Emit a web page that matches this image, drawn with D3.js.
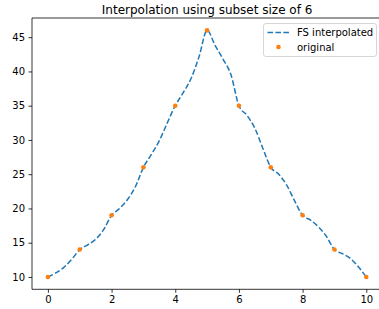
<!DOCTYPE html>
<html>
<head>
<meta charset="UTF-8">
<script src="https://d3js.org/d3.v7.min.js"></script>
<style>
body { margin: 0; background: #fff; }
text { font-family: "DejaVu Sans", sans-serif; }
</style>
</head>
<body>
<svg width="379" height="309"></svg>
<script>
// original samples
var origX = [0, 1, 2, 3, 4, 5, 6, 7, 8, 9, 10];
var origY = [10, 14, 19, 26, 35, 46, 35, 26, 19, 14, 10];

var fsX = [0, 0.25, 0.5, 0.75, 1, 1.25, 1.5, 1.75, 2, 2.25, 2.5, 2.75, 3, 3.25, 3.5, 3.75, 4, 4.25, 4.5, 4.75, 5,
           5.25, 5.5, 5.75, 6, 6.25, 6.5, 6.75, 7, 7.25, 7.5, 7.75, 8, 8.25, 8.5, 8.75, 9, 9.25, 9.5, 9.75, 10];
var fsY = [10, 10.6, 11.4, 12.6, 14, 14.7, 15.5, 16.9, 19, 20.0, 21.3, 23.2, 26, 27.9, 29.9, 32.5, 35, 36.9, 39.0, 42.2, 46,
           43.8, 41.8, 39.5, 35, 33.6, 31.7, 28.8, 26, 25.0, 23.4, 21.1, 19, 18.3, 17.3, 15.9, 14, 13.4, 12.7, 11.5, 10];

var xTicks = [0, 2, 4, 6, 8, 10];
var yTicks = [10, 15, 20, 25, 30, 35, 40, 45];

var svg = d3.select("svg");
var mLeft = 32, mTop = 18, mRight = 382.2, mBottom = 289.3;

var x = d3.scaleLinear().domain([-0.5, 10.5]).range([mLeft, mRight]);
var y = d3.scaleLinear().domain([8.2, 47.8]).range([mBottom, mTop]);

// title
svg.append("text")
  .attr("x", (mLeft + mRight) / 2)
  .attr("y", 13.5)
  .attr("text-anchor", "middle")
  .style("font-size", "12px")
  .text("Interpolation using subset size of 6");

// axes
var xAxis = svg.append("g")
  .attr("transform", "translate(0," + mBottom + ")")
  .call(d3.axisBottom(x).tickValues(xTicks).tickSize(3.5).tickPadding(3.5).tickFormat(d3.format("d")));
var yAxis = svg.append("g")
  .attr("transform", "translate(" + mLeft + ",0)")
  .call(d3.axisLeft(y).tickValues(yTicks).tickSize(3.5).tickPadding(3.5).tickFormat(d3.format("d")));

[xAxis, yAxis].forEach(function(a) {
  a.selectAll("text").style("font-size", "10px").attr("fill", "#000");
  a.selectAll("line").attr("stroke", "#000").attr("stroke-width", 0.8);
  a.select(".domain").remove();
});

// spines (left, bottom, top)
svg.append("line").attr("x1", mLeft).attr("x2", mLeft).attr("y1", mTop).attr("y2", mBottom)
  .attr("stroke", "#000").attr("stroke-width", 0.8);
svg.append("line").attr("x1", mLeft).attr("x2", mRight).attr("y1", mBottom).attr("y2", mBottom)
  .attr("stroke", "#000").attr("stroke-width", 0.8);
svg.append("line").attr("x1", mLeft).attr("x2", mRight).attr("y1", mTop).attr("y2", mTop)
  .attr("stroke", "#000").attr("stroke-width", 0.8);

// interpolated line
var line = d3.line()
  .x(function(d, i) { return x(fsX[i]); })
  .y(function(d) { return y(d); })
  .curve(d3.curveMonotoneX);

svg.append("path")
  .datum(fsY)
  .attr("d", line)
  .attr("fill", "none")
  .attr("stroke", "#1f77b4")
  .attr("stroke-width", 1.5)
  .attr("stroke-dasharray", "5.55,2.4");

// original points
svg.selectAll(".pt")
  .data(origY)
  .enter().append("circle")
  .attr("class", "pt")
  .attr("cx", function(d, i) { return x(origX[i]); })
  .attr("cy", function(d) { return y(d); })
  .attr("r", 2.3)
  .attr("fill", "#ff7f0e");

// legend
var lg = svg.append("g");
lg.append("rect")
  .attr("x", 263.5).attr("y", 23.5).attr("width", 113).attr("height", 33)
  .attr("rx", 2.5)
  .attr("fill", "#fff").attr("fill-opacity", 0.8)
  .attr("stroke", "#ccc").attr("stroke-width", 0.8);
lg.append("line")
  .attr("x1", 267.5).attr("x2", 289.5).attr("y1", 32.5).attr("y2", 32.5)
  .attr("stroke", "#1f77b4").attr("stroke-width", 1.5)
  .attr("stroke-dasharray", "5.55,2.4");
lg.append("text").attr("x", 297).attr("y", 36).style("font-size", "10px").text("FS interpolated");
lg.append("circle").attr("cx", 278.5).attr("cy", 47).attr("r", 2.3).attr("fill", "#ff7f0e");
lg.append("text").attr("x", 297).attr("y", 50.5).style("font-size", "10px").text("original");
</script>
</body>
</html>
